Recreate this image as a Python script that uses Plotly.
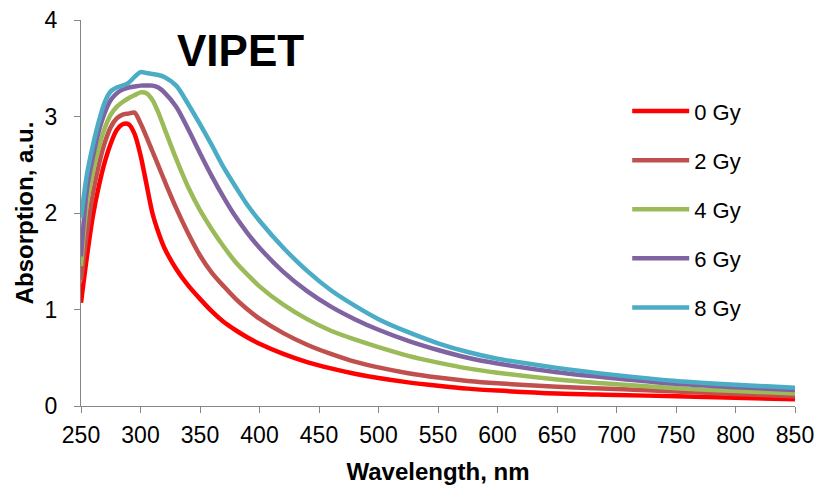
import plotly.graph_objects as go

# Wavelength grid (nm)
wavelength = [250, 255, 260, 265, 270, 275, 280, 285, 290, 295, 300, 305, 310, 315, 320,
              330, 340, 350, 360, 370, 380, 390, 400, 420, 440, 460, 480, 500, 525, 550,
              575, 600, 650, 700, 750, 800, 850]

# Absorption (a.u.) for each irradiation dose
abs_0gy = [1.07, 1.55, 1.97, 2.28, 2.53, 2.72, 2.86, 2.92, 2.92, 2.82, 2.60, 2.30, 2.00, 1.80, 1.64,
           1.42, 1.25, 1.11, 0.98, 0.87, 0.785, 0.71, 0.645, 0.54, 0.455, 0.39, 0.335, 0.29, 0.245, 0.21,
           0.18, 0.16, 0.13, 0.115, 0.10, 0.085, 0.07]
abs_2gy = [1.30, 1.80, 2.20, 2.50, 2.73, 2.89, 2.98, 3.02, 3.03, 3.04, 2.93, 2.79, 2.64, 2.49, 2.34,
           2.05, 1.79, 1.56, 1.38, 1.24, 1.11, 1.00, 0.905, 0.755, 0.635, 0.54, 0.46, 0.40, 0.34, 0.295,
           0.26, 0.235, 0.20, 0.175, 0.15, 0.125, 0.10]
abs_4gy = [1.45, 2.10, 2.42, 2.68, 2.88, 3.02, 3.10, 3.15, 3.19, 3.22, 3.25, 3.24, 3.17, 3.04, 2.88,
           2.56, 2.27, 2.03, 1.83, 1.65, 1.49, 1.36, 1.24, 1.05, 0.90, 0.78, 0.69, 0.61, 0.52, 0.45,
           0.39, 0.345, 0.275, 0.225, 0.185, 0.155, 0.13]
abs_6gy = [1.55, 2.25, 2.58, 2.85, 3.04, 3.17, 3.24, 3.28, 3.30, 3.31, 3.32, 3.32, 3.32, 3.30, 3.25,
           3.10, 2.87, 2.62, 2.38, 2.16, 1.96, 1.79, 1.64, 1.39, 1.19, 1.03, 0.90, 0.79, 0.675, 0.58,
           0.50, 0.44, 0.35, 0.285, 0.23, 0.195, 0.165]
abs_8gy = [1.95, 2.40, 2.70, 2.95, 3.15, 3.26, 3.30, 3.32, 3.35, 3.41, 3.46, 3.45, 3.44, 3.43, 3.41,
           3.32, 3.13, 2.92, 2.70, 2.47, 2.27, 2.08, 1.92, 1.64, 1.40, 1.20, 1.04, 0.90, 0.765, 0.65,
           0.56, 0.49, 0.395, 0.32, 0.26, 0.22, 0.19]

series_names = ["0 Gy", "2 Gy", "4 Gy", "6 Gy", "8 Gy"]
series_values = [abs_0gy, abs_2gy, abs_4gy, abs_6gy, abs_8gy]
series_colors = ["#FF0000", "#C0504D", "#9BBB59", "#8064A2", "#4BACC6"]

x_ticks = list(range(250, 851, 50))
y_ticks = [0, 1, 2, 3, 4]

FONT = "Liberation Sans, Arial, sans-serif"

fig = go.Figure()
for name, vals, col in zip(series_names, series_values, series_colors):
    fig.add_trace(go.Scatter(
        x=wavelength, y=vals, name=name, mode="lines",
        line=dict(color=col, width=4.5, shape="spline", smoothing=0.8),
        legendgroup=name,
    ))

axis_common = dict(
    showline=True, linecolor="#868686", linewidth=1.3,
    ticks="outside", ticklen=6, tickcolor="#868686", tickwidth=1.3,
    showgrid=False, zeroline=False, automargin=False,
    tickfont=dict(family=FONT, size=23, color="#000000"),
)

fig.update_layout(
    width=817, height=490,
    margin=dict(l=81, r=22, t=20, b=84),
    paper_bgcolor="white", plot_bgcolor="white",
    font=dict(family=FONT, color="#000000"),
    xaxis=dict(range=[250, 850], tickvals=x_ticks, ticklabelstandoff=2,
               title=dict(text="<b>Wavelength, nm</b>", font=dict(family=FONT, size=24), standoff=16),
               **axis_common),
    yaxis=dict(range=[0, 4], tickvals=y_ticks, ticklabelstandoff=12,
               title=dict(text="<b>Absorption, a.u.</b>", font=dict(family=FONT, size=24), standoff=4),
               **axis_common),
    legend=dict(x=0.765, y=0.818, xanchor="left", yanchor="top",
                font=dict(family=FONT, size=22, color="#000000"),
                bgcolor="rgba(0,0,0,0)", tracegroupgap=17.5, itemwidth=57),
    annotations=[dict(text="<b>VIPET</b>", x=0.224, y=0.922, xref="paper", yref="paper",
                      xanchor="center", yanchor="middle", showarrow=False,
                      font=dict(family=FONT, size=44, color="#000000"))],
)

fig.write_html("out.html")
